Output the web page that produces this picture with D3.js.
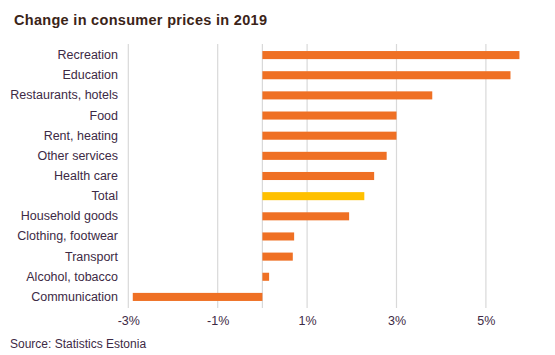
<!DOCTYPE html>
<html><head><meta charset="utf-8">
<script src="https://cdn.jsdelivr.net/npm/d3@7"></script>
<style>body{margin:0;background:#fff}svg{display:block}text{font-family:"Liberation Sans",Arial,sans-serif}</style>
</head><body>
<svg id="c" width="555" height="355"></svg>
<script>
const categories = ["Recreation","Education","Restaurants, hotels","Food","Rent, heating","Other services","Health care","Total","Household goods","Clothing, footwear","Transport","Alcohol, tobacco","Communication"];
const values = [5.75,5.55,3.8,3.0,3.0,2.78,2.5,2.28,1.94,0.71,0.68,0.15,-2.9];
const tickValues = [-3,-1,1,3,5];
const tickLabels = ["-3%","-1%","1%","3%","5%"];

const svg = d3.select("#c");
const textColor = "#3d2a45";
const x = d3.scaleLinear().domain([-3,6]).range([128.3,530.6]);
const y = d3.scaleBand().domain(categories).range([45,307]).paddingInner(0.6).paddingOuter(0.3);

svg.append("text").attr("x",14).attr("y",25).attr("font-size",14.5).attr("font-weight","bold")
  .attr("fill","#3b2418").attr("letter-spacing",0.3).text("Change in consumer prices in 2019");

const grid = svg.append("g");
grid.selectAll("line").data(tickValues.concat([0])).join("line")
  .attr("x1",d=>x(d)).attr("x2",d=>x(d)).attr("y1",44).attr("y2",308)
  .attr("stroke","#d9d9d9").attr("stroke-width",1.2);

svg.append("g").selectAll("rect").data(categories).join("rect")
  .attr("x",(d,i)=>x(Math.min(0,values[i])))
  .attr("width",(d,i)=>Math.abs(x(values[i])-x(0)))
  .attr("y",d=>y(d)).attr("height",y.bandwidth())
  .attr("fill",d=>d==="Total"?"#ffc000":"#ef7024");

const yAxis = d3.axisLeft(y).tickSize(0).tickPadding(0);
const ya = svg.append("g").attr("transform","translate(118,0)").call(yAxis);
ya.select(".domain").remove();
ya.selectAll("text").attr("font-size",12.5).attr("fill",textColor).attr("font-family","Liberation Sans,Arial,sans-serif");

const xAxis = d3.axisBottom(x).tickValues(tickValues).tickFormat((d,i)=>tickLabels[i]).tickSize(0).tickPadding(0);
const xa = svg.append("g").attr("transform","translate(0,316)").call(xAxis);
xa.select(".domain").remove();
xa.selectAll("text").attr("font-size",12.5).attr("fill",textColor).attr("dy","0.71em").attr("font-family","Liberation Sans,Arial,sans-serif");

svg.append("text").attr("x",10).attr("y",348).attr("font-size",12).attr("fill",textColor).text("Source: Statistics Estonia");
</script>
</body></html>
